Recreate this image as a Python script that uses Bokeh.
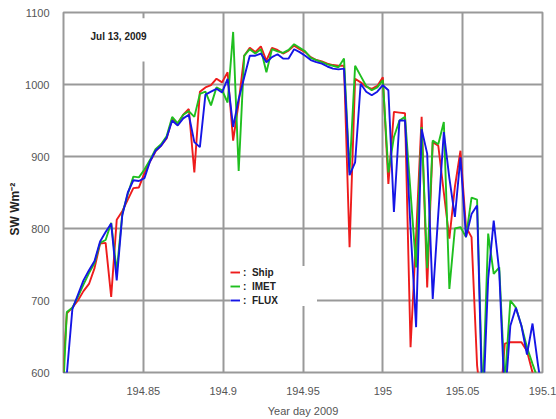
from bokeh.plotting import figure
from bokeh.models import FixedTicker, Legend, LegendItem, BoxAnnotation, Label
from bokeh.embed import file_html
from bokeh.resources import INLINE

# sample times: minute of UTC day (day 194 / 195), 5-minute samples
minute_of_day = [1150, 1155, 1160, 1165, 1170, 1175, 1180, 1185, 1190, 1195,
                 1200, 1205, 1210, 1215, 1220, 1225, 1230, 1235, 1240, 1245,
                 1250, 1255, 1260, 1265, 1270, 1275, 1280, 1285, 1290, 1295,
                 1300, 1305, 1310, 1315, 1320, 1325, 1330, 1335, 1340, 1345,
                 1350, 1355, 1360, 1365, 1370, 1375, 1380, 1385, 1390, 1395,
                 1400, 1405, 1410, 1415, 1420, 1425, 1430, 1435, 1440, 1445,
                 1450, 1455, 1460, 1465, 1470, 1475, 1480, 1485, 1490, 1495,
                 1500, 1505, 1510, 1515, 1520, 1525, 1530, 1535, 1540, 1545,
                 1550, 1555, 1560, 1565, 1570, 1575, 1580, 1585]
yday = [194 + m / 1440.0 for m in minute_of_day]

ship = [560, 682, 690, 700, 713, 723, 745, 779, 780, 705,
        812, 824, 840, 856, 857, 877, 893, 907, 915, 925,
        952, 946, 958, 966, 878, 990, 996, 999, 1008, 1003,
        1017, 922, 975, 1040, 1051, 1045, 1053, 1033, 1051, 1048,
        1043, 1047, 1054, 1049, 1045, 1038, 1034, 1032, 1029, 1027,
        1026, 1026, 774, 1008, 1003, 997, 994, 998, 1010, 862,
        962, 961, 960, 635, 790, 955, 718, 920, 915, 850,
        786, 858, 908, 802, 788, 610, 540, 540, 540, 540,
        640, 642, 642, 642, 630, 600, 570, 550]
imet = [520, 684, 690, 705, 722, 738, 752, 780, 784, 808,
        740, 820, 848, 872, 871, 882, 895, 910, 917, 928,
        955, 946, 958, 963, 955, 987, 990, 971, 996, 992,
        975, 1073, 880, 1040, 1049, 1043, 1049, 1017, 1049, 1046,
        1044, 1048, 1056, 1051, 1046, 1037, 1034, 1031, 1028, 1026,
        1024, 1036, 878, 1026, 1012, 998, 992, 996, 1006, 878,
        927, 950, 955, 850, 746, 941, 745, 922, 917, 948,
        716, 800, 802, 788, 843, 840, 560, 793, 737, 746,
        585, 700, 690, 665, 635, 612, 590, 570]
flux = [600, 598, 688, 708, 728, 742, 755, 782, 795, 807,
        728, 818, 850, 867, 866, 870, 893, 908, 915, 926,
        950, 943, 953, 958, 920, 913, 986, 990, 994, 989,
        1008, 941, 980, 1010, 1040, 1040, 1043, 1031, 1038, 1042,
        1036, 1036, 1049, 1045, 1040, 1034, 1031, 1029, 1025, 1022,
        1021, 1022, 874, 892, 1001, 990, 985, 990, 999, 992,
        823, 950, 950, 800, 663, 938, 904, 702, 820, 934,
        870, 816, 899, 788, 820, 832, 540, 730, 811, 740,
        560, 665, 690, 665, 625, 668, 610, 560]

series_names = ["Ship", "IMET", "FLUX"]
series_colors = ["#ee1c1c", "#1fbf1f", "#1515e6"]

x_ticks = [194.85, 194.9, 194.95, 195.0, 195.05, 195.1]
x_tick_labels = ["194.85", "194.9", "194.95", "195", "195.05", "195.1"]
y_ticks = [600, 700, 800, 900, 1000, 1100]

FONT = "Liberation Sans"
GRID = "#999999"

p = figure(width=556, height=419, x_range=(194.8, 195.1), y_range=(600, 1100),
           output_backend="svg", toolbar_location=None,
           min_border_left=63, min_border_right=14, min_border_top=12, min_border_bottom=47)
p.background_fill_color = "white"
p.border_fill_color = "white"
p.outline_line_color = GRID
p.outline_line_width = 2

p.xaxis.ticker = FixedTicker(ticks=x_ticks)
p.xaxis.major_label_overrides = {t: s for t, s in zip(x_ticks, x_tick_labels)}
p.yaxis.ticker = FixedTicker(ticks=y_ticks)

for ax in (p.xaxis[0], p.yaxis[0]):
    ax.axis_line_color = None
    ax.major_tick_line_color = None
    ax.minor_tick_line_color = None
    ax.major_tick_out = 0
    ax.major_tick_in = 0
    ax.major_label_text_font = FONT
    ax.major_label_text_font_size = "11px"
    ax.major_label_text_color = "#555555"

p.xaxis.major_label_standoff = 14
p.yaxis.major_label_standoff = 14

p.xaxis.axis_label = "Year day 2009"
p.xaxis.axis_label_text_font = FONT
p.xaxis.axis_label_text_font_size = "11px"
p.xaxis.axis_label_text_font_style = "normal"
p.xaxis.axis_label_text_color = "#555555"
p.xaxis.axis_label_standoff = 7

# trailing no-break spaces push the (rotated) title a little below the frame centre, as in the original
p.yaxis.axis_label = "SW Wm\u207b\u00b2" + "\u00a0" * 10
p.yaxis.axis_label_text_font = FONT
p.yaxis.axis_label_text_font_size = "12px"
p.yaxis.axis_label_text_font_style = "bold"
p.yaxis.axis_label_text_color = "#222222"
p.yaxis.axis_label_standoff = 0

for g in (p.xgrid[0], p.ygrid[0]):
    g.grid_line_color = GRID
    g.grid_line_width = 2
    g.grid_line_alpha = 1.0

renderers = []
for vals, col in zip([ship, imet, flux], series_colors):
    r = p.line(yday, vals, line_color=col, line_width=1.9)
    renderers.append(r)

legend = Legend(items=[LegendItem(label=":  " + n, renderers=[r]) for n, r in zip(series_names, renderers)],
                location=(167, 66), glyph_width=10, glyph_height=12, label_height=12,
                spacing=2, padding=14, label_standoff=3, label_width=74, margin=0,
                label_text_font=FONT, label_text_font_size="10px",
                label_text_font_style="bold", label_text_color="#222222",
                background_fill_color="white", background_fill_alpha=1.0,
                border_line_color=None)
p.add_layout(legend)

box = BoxAnnotation(left=194.812, right=194.866, bottom=1032, top=1092,
                    fill_color="white", fill_alpha=1.0, line_color=None)
p.add_layout(box)
p.add_layout(Label(x=194.8169, y=1067, text="Jul 13, 2009", text_font=FONT,
                   text_font_size="10px", text_font_style="bold",
                   text_color="#222222", text_baseline="middle", text_align="left"))

open("out.html", "w").write(file_html(p, INLINE))
